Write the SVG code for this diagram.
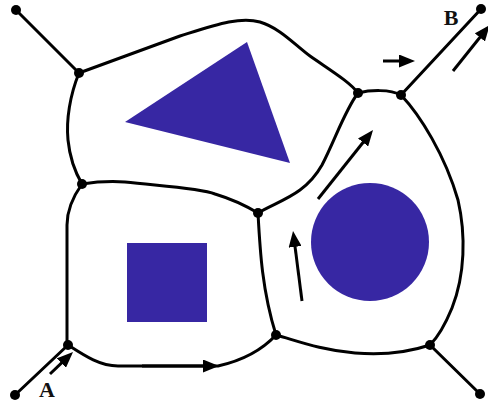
<svg xmlns="http://www.w3.org/2000/svg" width="488" height="405" viewBox="0 0 488 405">
<defs>
<style>
.edge{fill:none;stroke:#000;stroke-width:3;stroke-linejoin:round;stroke-linecap:round}
.arr{fill:none;stroke:#000;stroke-width:3}
.shape{fill:#3727a3}
.node{fill:#000}
.lbl{font-family:"Liberation Serif",serif;font-weight:bold;font-size:22px;fill:#111}
</style>
<marker id="ah" markerWidth="16" markerHeight="13" refX="6" refY="6.5" orient="auto" markerUnits="userSpaceOnUse">
<path d="M0,0 L16,6.5 L0,13 Z" fill="#000"/>
</marker>
</defs>
<rect width="488" height="405" fill="#fff"/>
<g id="shapes">
<polygon id="triangle" class="shape" points="125,122 247,42 290,163"/>
<rect id="square" class="shape" x="127" y="243" width="80" height="79"/>
<circle id="circle" class="shape" cx="370" cy="242" r="59"/>
</g>
<g id="connectors">
<path class="edge" d="M16,10 L79,73"/>
<path class="edge" d="M79,73 C70,95 66,120 68,140 C70,160 75,172 82,184"/>
<path class="edge" d="M79,73 L180,36 C215,25 240,16 260,22 C280,28 295,45 310,56 C330,70 350,82 358,93"/>
<path class="edge" d="M358,93 C370,90 390,89 401,95"/>
<path class="edge" d="M401,95 L481,9"/>
<path class="edge" d="M358,93 C345,110 335,140 322,165 C305,195 280,200 258,213"/>
<path class="edge" d="M401,95 C420,115 445,155 458,200 C466,235 465,275 452,308 C445,325 438,337 430,345"/>
<path class="edge" d="M430,345 L480,394"/>
<path class="edge" d="M82,184 C95,182 110,181 125,182 C160,186 200,188 215,194 C235,200 248,207 258,213"/>
<path class="edge" d="M82,184 C72,198 67,212 67,225 L67,345"/>
<path class="edge" d="M258,213 C260,250 262,290 276,335"/>
<path class="edge" d="M276,335 C295,340 320,350 355,353 C390,356 415,350 430,345"/>
<path class="edge" d="M68,345 C85,356 100,366 118,366 L218,366 C245,360 262,350 276,335"/>
<path class="edge" d="M68,345 L15,395"/>
<path class="arr" stroke-width="4" d="M142,366 L209,366" marker-end="url(#ah)"/>
<path class="arr" d="M50,374 L65.8,358.9" marker-end="url(#ah)"/>
<path class="arr" d="M383,61 L405,61" marker-end="url(#ah)"/>
<path class="arr" d="M453,71 L483.6,32.7" marker-end="url(#ah)"/>
<path class="arr" d="M302,301 L294.3,240.9" marker-end="url(#ah)"/>
<path class="arr" d="M318,199 L366.8,137.8" marker-end="url(#ah)"/>
</g>
<g id="nodes">
<circle id="n-tl" class="node" cx="16" cy="10" r="5"/>
<circle id="n1" class="node" cx="79" cy="73" r="5"/>
<circle id="n2" class="node" cx="82" cy="184" r="5"/>
<circle id="n3" class="node" cx="258" cy="213" r="5"/>
<circle id="n4" class="node" cx="358" cy="93" r="5"/>
<circle id="n5" class="node" cx="401" cy="95" r="5"/>
<circle id="n-b" class="node" cx="481" cy="9" r="5"/>
<circle id="n6" class="node" cx="276" cy="335" r="5"/>
<circle id="n7" class="node" cx="430" cy="345" r="5"/>
<circle id="n-br" class="node" cx="480" cy="394" r="5"/>
<circle id="n-a" class="node" cx="68" cy="345" r="5"/>
<circle id="n-bl" class="node" cx="15" cy="395" r="5"/>
</g>
<g id="labels">
<text class="lbl" x="47" y="397" text-anchor="middle">A</text>
<text class="lbl" x="451" y="25" text-anchor="middle">B</text>
</g>
</svg>
